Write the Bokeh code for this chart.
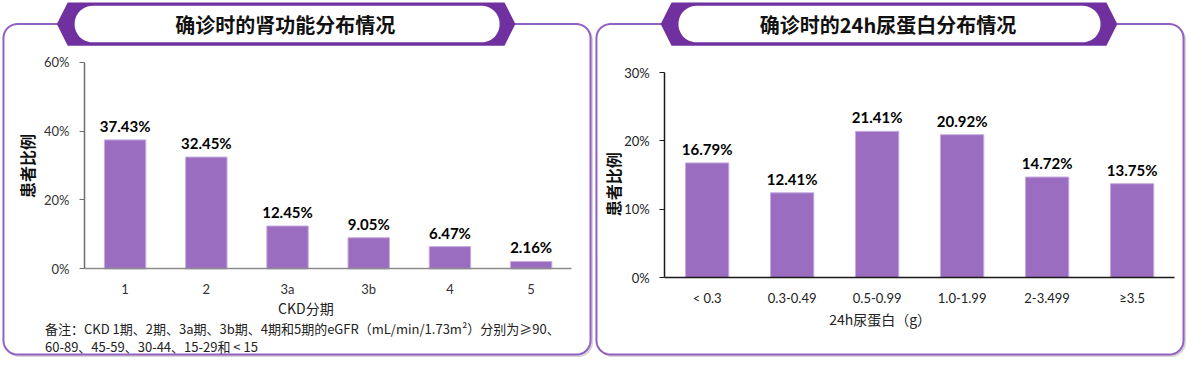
import numpy as np
from bokeh.plotting import figure
from bokeh.models import Range1d, LinearAxis, FixedTicker, PrintfTickFormatter, ColumnDataSource
from bokeh.core.properties import value
from bokeh.embed import file_html
from bokeh.resources import INLINE

# ---------------- data ----------------
ckd_stages = ["1", "2", "3a", "3b", "4", "5"]
ckd_pct = [37.43, 32.45, 12.45, 9.05, 6.47, 2.16]
ckd_yticks = [0, 20, 40, 60]

prot_bins = ["< 0.3", "0.3-0.49", "0.5-0.99", "1.0-1.99", "2-3.499", "≥3.5"]
prot_pct = [16.79, 12.41, 21.41, 20.92, 14.72, 13.75]
prot_yticks = [0, 10, 20, 30]

title_left = "确诊时的肾功能分布情况"
title_right = "确诊时的24h尿蛋白分布情况"
y_title = "患者比例"
x_title_left = "CKD分期"
x_title_right = "24h尿蛋白（g）"
note_lines = ["备注：CKD 1期、2期、3a期、3b期、4期和5期的eGFR（mL/min/1.73m²）分别为≥90、",
              "60-89、45-59、30-44、15-29和 < 15"]

# ---------------- styling / layout ----------------
W, H = 1186, 358
CJK = value("Noto Sans CJK SC")
LAT = value("Lato")
BAR = "#9b6dc0"
BAR_EDGE = "#c7aee0"
BORDER = "#9160c2"
HEX = "#7030a0"

SX = 1184 / 1198
SY = 355 / 369


def fx(X):
    return X * SX


def fy(Y):
    return Y * SY


p = figure(width=W, height=H, x_range=Range1d(0, W), y_range=Range1d(H, 0),
           output_backend="svg", toolbar_location=None,
           x_axis_type=None, y_axis_type=None,
           min_border_left=0, min_border_right=0, min_border_top=0, min_border_bottom=0)
p.outline_line_color = None
p.background_fill_color = "white"
p.border_fill_color = "white"


def rounded_rect(x0, y0, x1, y1, r, n=12):
    xs, ys = [], []
    corners = [(x1 - r, y0 + r, -90, 0), (x1 - r, y1 - r, 0, 90),
               (x0 + r, y1 - r, 90, 180), (x0 + r, y0 + r, 180, 270)]
    for cx, cy, a0, a1 in corners:
        for t in np.linspace(np.radians(a0), np.radians(a1), n):
            xs.append(cx + r * np.cos(t))
            ys.append(cy + r * np.sin(t))
    return xs, ys


def panel(X0, X1, hexL, hexR, pillL, pillR, title, tcx):
    Y0, Y1 = 24.5, 368
    sx, sy = rounded_rect(fx(X0) + 2, fy(Y0) + 2, fx(X1) + 2, fy(Y1) + 2, 14)
    p.patch(sx, sy, fill_color="#d6d6d6", line_color="#d6d6d6", line_width=1)
    bx, by = rounded_rect(fx(X0), fy(Y0), fx(X1), fy(Y1), 14)
    p.patch(bx, by, fill_color="white", line_color=BORDER, line_width=2)
    ht, hb, dx = 2, 47, 11
    hx = [fx(hexL), fx(hexL + dx), fx(hexR - dx), fx(hexR), fx(hexR - dx), fx(hexL + dx)]
    hy = [fy(Y0), fy(ht), fy(ht), fy(Y0), fy(hb), fy(hb)]
    p.patch(hx, hy, fill_color=HEX, line_color=None)
    px_, py_ = rounded_rect(fx(pillL), fy(5.5), fx(pillR), fy(43.5), 18)
    p.patch(px_, py_, fill_color="white", line_color=None)
    p.text(x=[fx(tcx)], y=[fy(25)], text=[title], text_align="center", text_baseline="middle",
           text_font=CJK, text_font_style="bold", text_font_size="20px", text_color="#111111")


panel(3, 597, 57, 521, 75, 505, title_left, 288)
panel(603, 1197, 668, 1130, 686, 1113, title_right, 898)

x_ranges, y_ranges = {}, {}


def chart(key, cats, vals, yticks, ax_left, ax_right, y0_page, ytop_page,
          axis_color_y, axis_color_x, label_color):
    n = len(cats)
    ymax = yticks[-1]
    ppc = (fx(ax_right) - fx(ax_left)) / n
    xs0 = 0.5 - fx(ax_left) / ppc
    x_ranges[key + "x"] = Range1d(start=xs0, end=xs0 + W / ppc)
    k = (fy(y0_page) - fy(ytop_page)) / ymax
    ys0 = -(H - fy(y0_page)) / k
    y_ranges[key + "y"] = Range1d(start=ys0, end=ys0 + H / k)
    xn, yn = key + "x", key + "y"

    src = ColumnDataSource(dict(x=list(range(1, n + 1)), v=vals,
                                lab=[f"{v:.2f}%" for v in vals]))
    p.vbar(x="x", top="v", bottom=0, width=0.51, source=src, x_range_name=xn, y_range_name=yn,
           fill_color=BAR, line_color=BAR_EDGE, line_width=1)
    p.text(x="x", y="v", text="lab", source=src, x_range_name=xn, y_range_name=yn,
           text_align="center", text_baseline="bottom", y_offset=-5,
           text_font=LAT, text_font_style="bold", text_font_size="15px", text_color="#000000")

    yax = LinearAxis(x_range_name=xn, y_range_name=yn, fixed_location=0.5, bounds=(0, ymax),
                     ticker=FixedTicker(ticks=yticks), formatter=PrintfTickFormatter(format="%d%%"),
                     major_tick_out=5, major_tick_in=0, minor_tick_out=0, minor_tick_in=0,
                     major_label_standoff=10, axis_line_color=axis_color_y,
                     major_tick_line_color=axis_color_y, axis_line_width=1.5,
                     major_label_text_font="Lato", major_label_text_font_size="13px",
                     major_label_text_color=label_color)
    p.add_layout(yax, "left")
    xax = LinearAxis(x_range_name=xn, y_range_name=yn, fixed_location=0, bounds=(0.5, n + 0.5),
                     ticker=FixedTicker(ticks=list(range(1, n + 1))),
                     major_label_overrides={i + 1: c for i, c in enumerate(cats)},
                     major_tick_out=0, major_tick_in=0, minor_tick_out=0, minor_tick_in=0,
                     major_label_standoff=12, axis_line_color=axis_color_x, axis_line_width=1.5,
                     major_label_text_font="Lato", major_label_text_font_size="13px",
                     major_label_text_color=label_color)
    p.add_layout(xax, "below")


chart("a", ckd_stages, ckd_pct, ckd_yticks, 85, 578, 279, 64, "#6e6e6e", "#8c8c8c", "#333333")
chart("b", prot_bins, prot_pct, prot_yticks, 672, 1188, 288, 75, "#1a1a1a", "#1a1a1a", "#222222")
p.extra_x_ranges = x_ranges
p.extra_y_ranges = y_ranges

# axis titles
p.text(x=[fx(27), fx(620)], y=[fy(172), fy(191)], text=[y_title, y_title], angle=np.pi / 2,
       text_align="center", text_baseline="middle", text_font=CJK, text_font_style="bold",
       text_font_size="16px", text_color="#111111")
p.text(x=[fx(309), fx(890)], y=[fy(320), fy(331)], text=[x_title_left, x_title_right],
       text_align="center", text_baseline="middle", text_font=CJK, text_font_size="14px",
       text_color="#222222")
# footnote
p.text(x=[fx(45), fx(45)], y=[fy(341), fy(360)], text=note_lines, text_align="left",
       text_baseline="middle", text_font=CJK, text_font_size="13px", text_color="#222222")

open("out.html", "w").write(file_html(p, INLINE))
